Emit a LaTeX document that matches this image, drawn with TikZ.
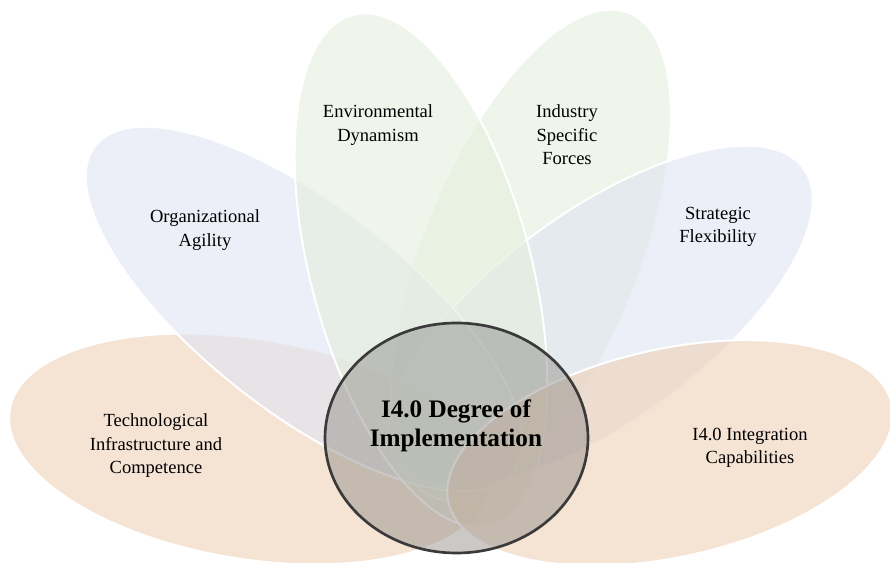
\documentclass[tikz,border=0pt]{standalone}
\usepackage{fontspec}
\setmainfont{Liberation Serif}
\definecolor{peach}{RGB}{238,208,183}
\definecolor{paleblue}{RGB}{223,228,242}
\definecolor{palegreen}{RGB}{228,238,220}
\definecolor{hubgray}{RGB}{140,136,133}
\definecolor{hubline}{RGB}{58,58,58}
\tikzset{
  petal/.style={fill=#1, fill opacity=0.6, draw=white, line width=1.5pt},
  petaltext/.style={align=center, font=\fontsize{13.9}{17.6}\selectfont},
  hub/.style={fill=hubgray, fill opacity=0.45, draw=hubline, line width=2pt}
}
\begin{document}
\begin{tikzpicture}[x=0.75pt,y=0.75pt]
  \useasboundingbox (0,0) rectangle (890,563);
  \clip (0,0) rectangle (890,563);
  % petals, back to front
  \draw[petal=peach, rotate around={-9.25:(250,114)}] (250,114) ellipse (243.5 and 110);
  \draw[petal=palegreen, rotate around={68:(531,308)}] (531,308) ellipse (261 and 108);
  \draw[petal=paleblue, rotate around={36:(600.5,247)}] (600.5,247) ellipse (251 and 105);
  \draw[petal=paleblue, rotate around={-38:(304,254)}] (304,254) ellipse (265 and 103);
  \draw[petal=palegreen, rotate around={105:(421,293)}] (421,293) ellipse (264 and 110);
  \draw[petal=peach, rotate around={12.5:(670,110)}] (670,110) ellipse (227 and 104);
  % hub
  \draw[hub] (456.5,125) ellipse (131.5 and 115);
  % texts
  \node[petaltext] (agility) at (205,333) {Organizational\\Agility};
  \node[petaltext] (dynamism) at (378,438) {Environmental\\Dynamism};
  \node[petaltext] (forces) at (567,428) {Industry\\Specific\\Forces};
  \node[petaltext] (flexibility) at (718,336) {Strategic\\Flexibility};
  \node[petaltext] (infra) at (156,117) {Technological\\Infrastructure and\\Competence};
  \node[petaltext] (integration) at (750,115) {I4.0 Integration\\Capabilities};
  \node[align=center, font=\bfseries\fontsize{18.9}{22}\selectfont] (degree) at (456,137)
    {I4.0 Degree of\\Implementation};
\end{tikzpicture}
\end{document}
